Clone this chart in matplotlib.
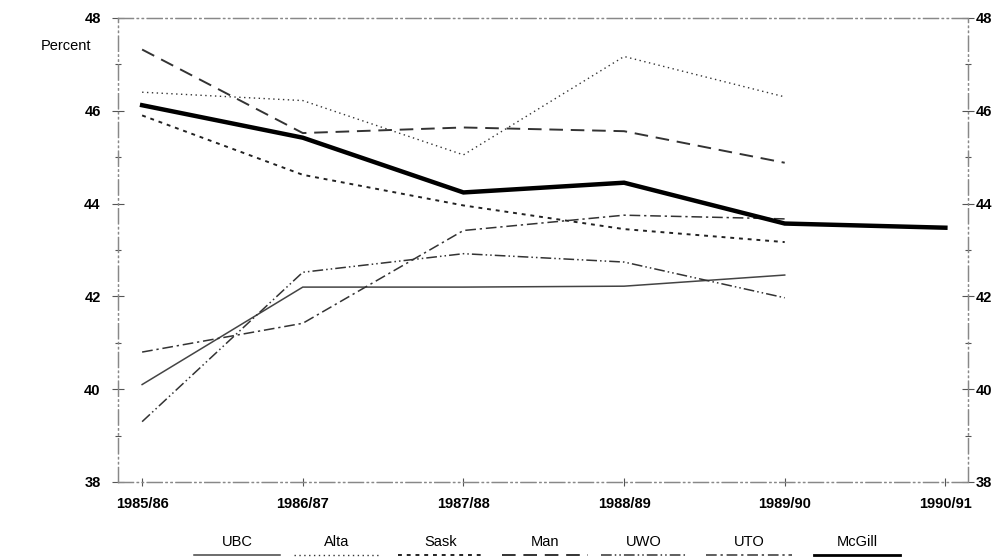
import numpy as np
import matplotlib
matplotlib.use("Agg")
import matplotlib.pyplot as plt
from matplotlib.ticker import MultipleLocator

plt.rcParams["font.family"] = ["Liberation Sans", "DejaVu Sans"]

years = ["1985/86", "1986/87", "1987/88", "1988/89", "1989/90", "1990/91"]

ubc = [40.1, 42.2, 42.2, 42.22, 42.46]
alta = [46.4, 46.22, 45.05, 47.17, 46.3]
sask = [45.9, 44.62, 43.96, 43.45, 43.17]
man = [47.32, 45.52, 45.64, 45.56, 44.88]
uwo = [39.3, 42.52, 42.92, 42.74, 41.97]
uto = [40.8, 41.42, 43.42, 43.75, 43.67]
mcgill = [46.12, 45.42, 44.24, 44.45, 43.57, 43.48]

series = [
    ("UBC", ubc, dict(color="#444444", lw=1.1, ls="-")),
    ("Alta", alta, dict(color="#333333", lw=1.0, ls=(0, (1, 2.5)))),
    ("Sask", sask, dict(color="#222222", lw=1.4, ls=(0, (2, 2.5)))),
    ("Man", man, dict(color="#333333", lw=1.4, ls=(0, (7, 4)))),
    ("UWO", uwo, dict(color="#333333", lw=1.1, ls=(0, (7, 2, 1, 2, 1, 2)))),
    ("UTO", uto, dict(color="#333333", lw=1.1, ls=(0, (7, 2.5, 1.5, 2.5)))),
    ("McGill", mcgill, dict(color="#000000", lw=3.2, ls="-")),
]

fig = plt.figure(figsize=(10.01, 5.6), dpi=100)
ax = fig.add_axes([0.1179, 0.1393, 0.849, 0.8286])

for name, vals, style in series:
    ax.plot(np.arange(len(vals)), vals, solid_joinstyle="miter", **style)

ax.set_xlim(-0.15, 5.14)
ax.set_ylim(38, 48)
ax.set_xticks(range(len(years)))
ax.set_xticklabels(years, fontsize=10.5, fontweight="bold")
ax.yaxis.set_major_locator(MultipleLocator(2))
ax.yaxis.set_minor_locator(MultipleLocator(1))
ax.tick_params(axis="y", which="major", direction="inout", length=9, width=0.8,
               color="#555555", labelsize=10.5, pad=8)
ax.tick_params(axis="y", which="minor", direction="inout", length=4, width=0.8,
               color="#555555")
ax.tick_params(axis="x", direction="inout", length=6, width=0.8, color="#555555",
               pad=8)
for lab in ax.get_yticklabels():
    lab.set_fontweight("bold")

# right-hand scale (labels run off the page edge as in the original)
ax2 = ax.twinx()
ax2.set_ylim(38, 48)
ax2.yaxis.set_major_locator(MultipleLocator(2))
ax2.yaxis.set_minor_locator(MultipleLocator(1))
ax2.tick_params(axis="y", which="major", direction="inout", length=9, width=0.8,
                color="#555555", labelsize=10.5, pad=1)
ax2.tick_params(axis="y", which="minor", direction="inout", length=4, width=0.8,
                color="#555555")
for lab in ax2.get_yticklabels():
    lab.set_fontweight("bold")

for a in (ax, ax2):
    for side in ["top", "bottom", "left", "right"]:
        a.spines[side].set_color("#888888")
        a.spines[side].set_linewidth(0.9)
        a.spines[side].set_linestyle((0, (12, 3, 1, 3, 1, 3)))

fig.text(66 / 1001, 1 - 46 / 560, "Percent", fontsize=10.5, ha="center", va="center")

# legend row: labels above line samples
lax = fig.add_axes([0, 0, 1, 0.07])
lax.set_xlim(0, 1001)
lax.set_ylim(0, 39.2)
lax.axis("off")
centers = [237, 337, 441, 545, 644, 749, 857]
for cx, (name, vals, style) in zip(centers, series):
    lax.text(cx, 39.2 - 542 + 521, name, ha="center", va="center", fontsize=10.5)
    st = dict(style)
    if name == "McGill":
        st["lw"] = 2.0
    lax.plot([cx - 43, cx + 43], [5, 5], **st)

fig.savefig("out.png", dpi=100)
